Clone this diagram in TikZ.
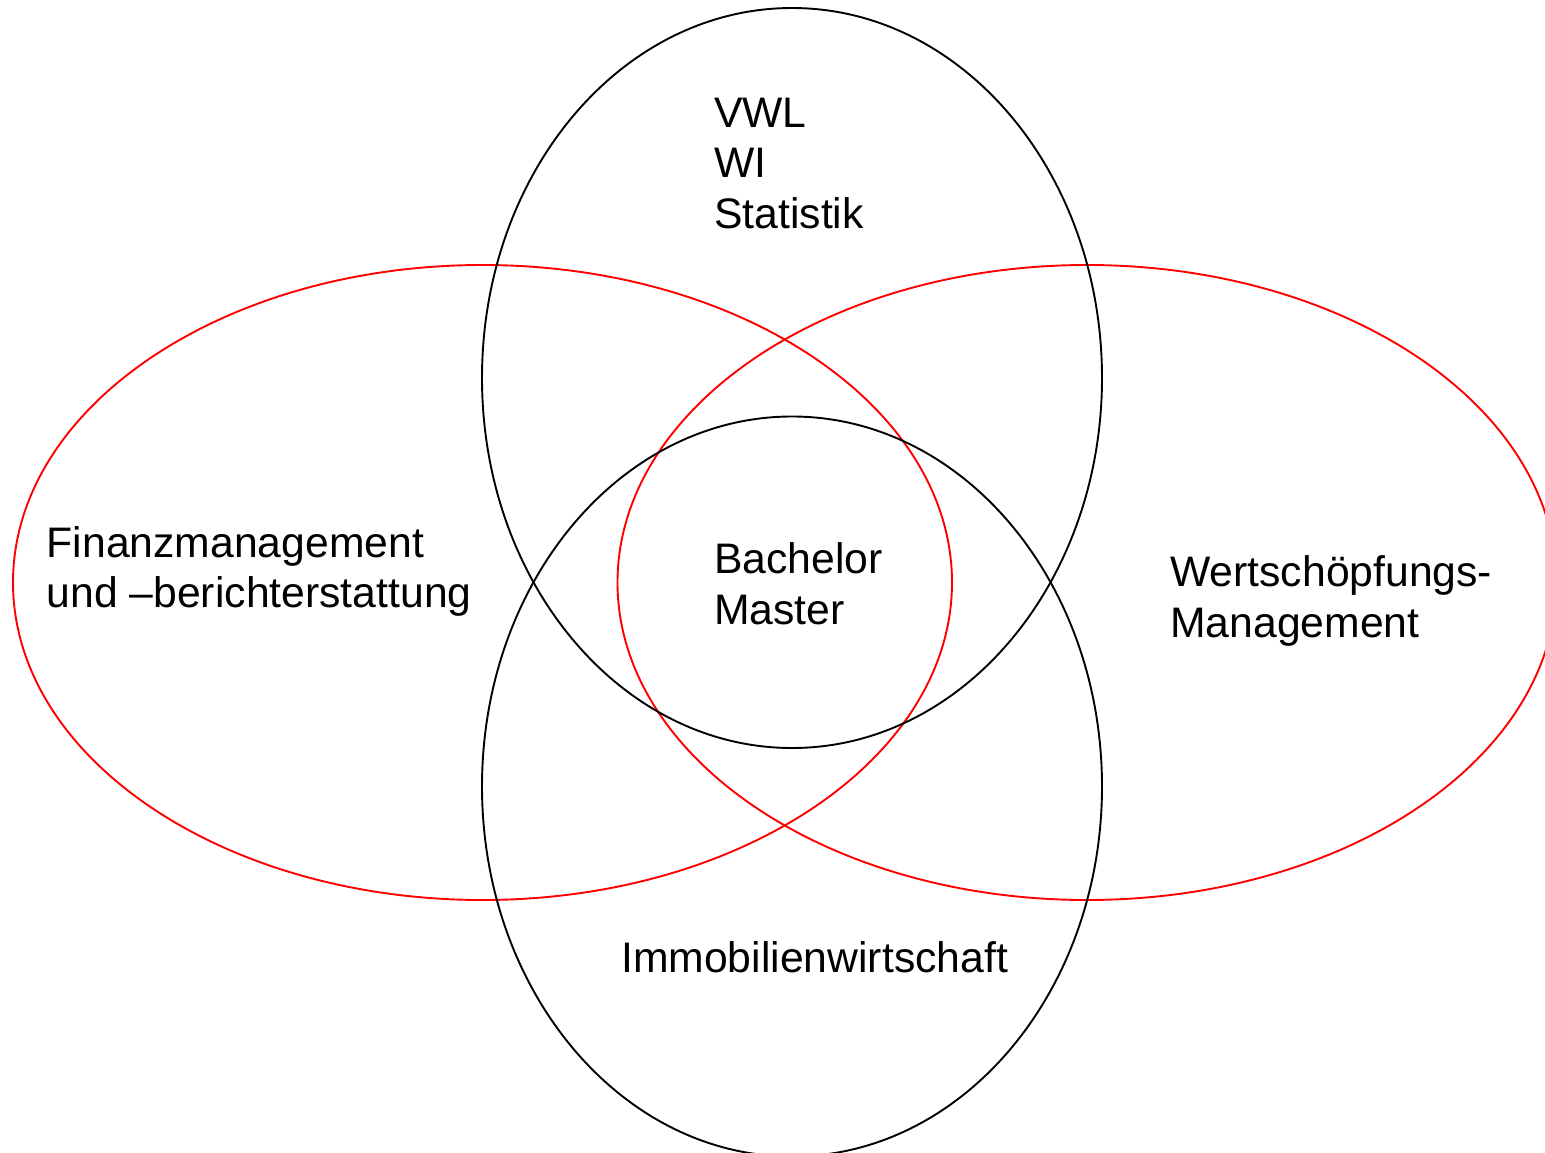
\documentclass[tikz,border=0pt]{standalone}
\usepackage{fontspec}
\setmainfont{Liberation Sans}
\usepackage{tikz}

\begin{document}
\begin{tikzpicture}[x=1pt,y=-1pt,
    ring/.style={line width=1.9pt},
    label/.style={anchor=base west,inner sep=0pt,align=left,
      font=\fontsize{42.7}{50.5}\selectfont}]
  \useasboundingbox (0,0) rectangle (1545,1153);
  \draw[ring,red] (482.5,582.5) ellipse [x radius=469.5pt,y radius=317.5pt];
  \draw[ring,red] (1087,582.5) ellipse [x radius=469.5pt,y radius=317.5pt];
  \draw[ring] (792,378) ellipse [x radius=310pt,y radius=370pt];
  \draw[ring] (792,786.5) ellipse [x radius=310pt,y radius=370pt];
  % base anchor sits on the last line
  \node[label] (top) at (714,228) {VWL\\WI\\Statistik};
  \node[label] (left) at (46.5,607.5) {Finanzmanagement\\und –berichterstattung};
  \node[label] (mid) at (714,624) {Bachelor\\Master};
  \node[label] (right) at (1170,637) {Wertschöpfungs-\\Management};
  \node[label] (bottom) at (621,972) {Immobilienwirtschaft};
\end{tikzpicture}
\end{document}
